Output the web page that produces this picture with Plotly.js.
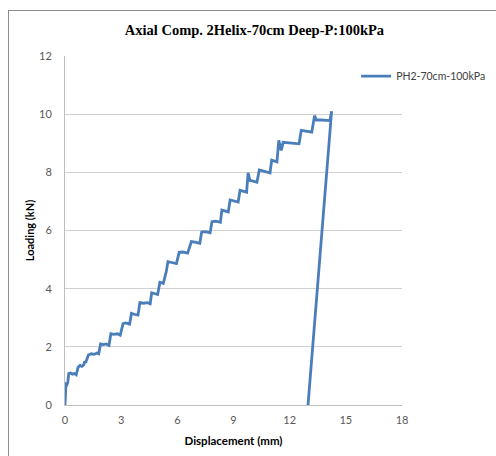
<!DOCTYPE html>
<html>
<head>
<meta charset="utf-8">
<script src="https://cdn.plot.ly/plotly-3.0.1.min.js"></script>
<style>
  html, body { margin: 0; padding: 0; background: #fff; }
  #frame { position: absolute; left: 8px; top: 10px; width: 488px; height: 446px;
           border-top: 1px solid #8c8c8c; border-left: 1px solid #8c8c8c; box-sizing: border-box; pointer-events: none; z-index: 5; }
  #chart { position: absolute; left: 0; top: 0; width: 496px; height: 456px; }
</style>
</head>
<body>
<div id="chart"></div>
<div id="frame"></div>
<script>
// Displacement (mm)
const displacement = [
  0, 0.03, 0.05, 0.1, 0.15, 0.2, 0.3, 0.4, 0.5, 0.6,
  0.7, 0.8, 0.9, 1.0, 1.05, 1.1, 1.25, 1.4, 1.55, 1.7,
  1.8, 1.9, 2.05, 2.2, 2.35, 2.45, 2.6, 2.8, 2.95, 3.1,
  3.25, 3.45, 3.55, 3.7, 3.9, 4.0, 4.2, 4.4, 4.55, 4.63,
  4.8, 4.95, 5.07, 5.25, 5.4, 5.5, 5.7, 5.95, 6.1, 6.3,
  6.55, 6.75, 6.95, 7.2, 7.3, 7.5, 7.75, 7.85, 8.05, 8.3,
  8.38, 8.55, 8.72, 8.82, 9.0, 9.25, 9.35, 9.55, 9.7, 9.78,
  9.88, 10.05, 10.25, 10.38, 10.6, 10.95, 11.04, 11.2, 11.32, 11.42,
  11.55, 11.65, 12.0, 12.3, 12.5, 12.62, 12.9, 13.18, 13.33, 13.42,
  13.7, 14.0, 14.15, 14.24, 12.98
];
// Loading (kN)
const loading = [
  0, 0.45, 0.72, 0.7, 0.78, 1.08, 1.1, 1.06, 1.08, 1.04,
  1.3, 1.36, 1.33, 1.38, 1.5, 1.45, 1.72, 1.76, 1.74, 1.79,
  1.76, 2.1, 2.08, 2.1, 2.05, 2.45, 2.43, 2.45, 2.4, 2.8,
  2.82, 2.78, 3.15, 3.12, 3.09, 3.52, 3.5, 3.52, 3.48, 3.86,
  3.84, 3.8, 4.22, 4.18, 4.56, 4.93, 4.9, 4.86, 5.25, 5.26,
  5.22, 5.62, 5.6, 5.56, 5.95, 5.96, 5.92, 6.3, 6.32, 6.28,
  6.7, 6.68, 6.64, 7.05, 7.02, 6.98, 7.38, 7.36, 7.32, 7.98,
  7.72, 7.7, 7.66, 8.08, 8.05, 7.98, 8.42, 8.4, 8.36, 9.1,
  8.75, 9.03, 9.02, 9.0, 8.98, 9.44, 9.42, 9.38, 9.95, 9.8,
  9.8, 9.78, 9.78, 10.1, 0
];
const xTicks = [0, 3, 6, 9, 12, 15, 18];
const yTicks = [0, 2, 4, 6, 8, 10, 12];
const seriesName = 'PH2-70cm-100kPa';
const chartTitle = 'Axial Comp. 2Helix-70cm Deep-P:100kPa';

const trace = {
  x: displacement, y: loading, type: 'scatter', mode: 'lines', name: seriesName,
  line: { color: '#4a7ebb', width: 2.8 }
};

const layout = {
  width: 496, height: 456,
  margin: { l: 65, r: 94, t: 56, b: 51, autoexpand: false },
  paper_bgcolor: '#ffffff', plot_bgcolor: '#ffffff',
  title: { text: chartTitle, x: 0.513, xanchor: 'center', y: 0.935, yanchor: 'middle',
           font: { family: 'Liberation Serif', size: 14.5, color: '#000', weight: 'bold' } },
  showlegend: true,
  legend: { xref: 'container', yref: 'container', x: 0.718, y: 0.865, xanchor: 'left', yanchor: 'top',
            bgcolor: 'rgba(0,0,0,0)', itemwidth: 30,
            font: { family: 'Lato', size: 10.5, color: '#404040' } },
  xaxis: {
    range: [0, 18], tickvals: xTicks, ticktext: xTicks.map(String),
    showgrid: false, zeroline: false, showline: true, linecolor: '#bfbfbf', linewidth: 1,
    ticks: '', ticklabelstandoff: 5,
    tickfont: { family: 'Lato', size: 11, color: '#595959' },
    title: { text: 'Displacement (mm)', standoff: 11,
             font: { family: 'Lato', size: 11.5, color: '#000', weight: 'bold' } }
  },
  yaxis: {
    range: [0, 12], tickvals: yTicks, ticktext: yTicks.map(String),
    showgrid: true, gridcolor: '#d0d0d0', gridwidth: 1, zeroline: false,
    showline: true, linecolor: '#bfbfbf', linewidth: 1,
    ticks: '', ticklabelstandoff: 10,
    tickfont: { family: 'Lato', size: 11, color: '#595959' },
    title: { text: 'Loading (kN)', standoff: 2,
             font: { family: 'Lato', size: 11, color: '#000', weight: 'bold' } }
  }
};

Plotly.newPlot('chart', [trace], layout, { staticPlot: true, displayModeBar: false });
</script>
</body>
</html>
